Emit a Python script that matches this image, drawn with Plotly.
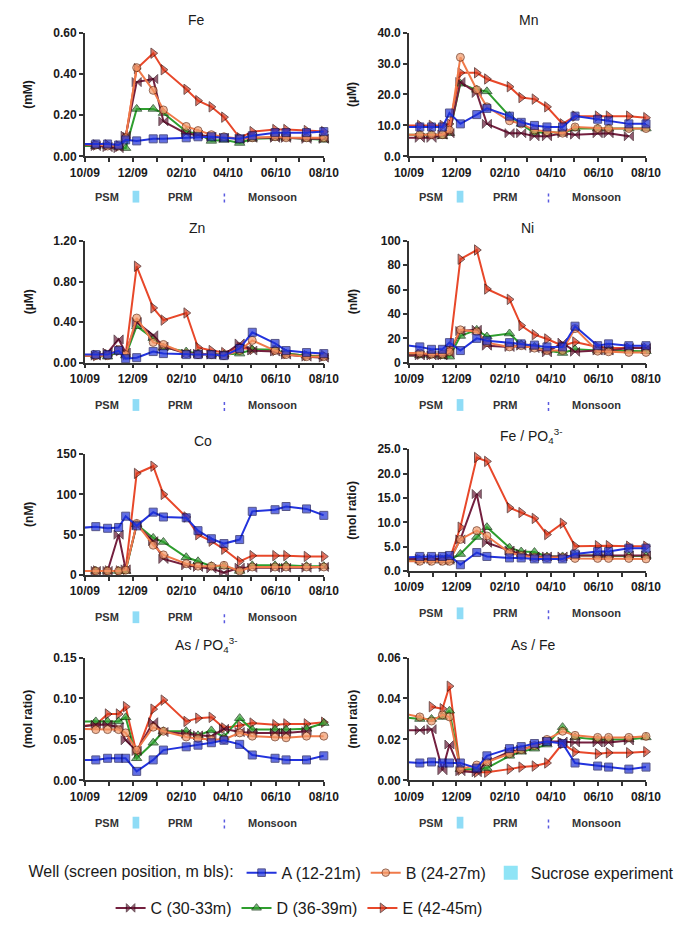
import plotly.graph_objects as go

W, H = 683, 925

# Sampling dates (first entry precedes the axis start so lines enter from the left edge)
dates = ["2009-09-20", "2009-10-15", "2009-10-30", "2009-11-13", "2009-11-22",
         "2009-12-06", "2009-12-27", "2010-01-09", "2010-02-07", "2010-02-22",
         "2010-03-11", "2010-03-27", "2010-04-16", "2010-05-02", "2010-05-31",
         "2010-06-14", "2010-07-10", "2010-08-01"]

# Fe (mM)
fe_A = [0.06, 0.06, 0.06, 0.055, 0.08, 0.075, 0.085, 0.085, 0.09, 0.095, 0.095, 0.09, 0.085, 0.10, 0.115, 0.115, 0.115, 0.12]
fe_B = [0.06, 0.055, 0.05, 0.05, 0.09, 0.43, 0.32, 0.225, 0.145, 0.125, 0.105, 0.095, 0.085, 0.09, 0.095, 0.09, 0.09, 0.09]
fe_C = [0.06, 0.05, 0.045, 0.04, 0.10, 0.36, 0.375, 0.17, 0.11, 0.105, 0.095, 0.09, 0.085, 0.09, 0.09, 0.09, 0.085, 0.085]
fe_D = [0.05, 0.05, 0.05, 0.045, 0.04, 0.23, 0.23, 0.21, 0.12, 0.11, 0.075, 0.08, 0.065, 0.085, 0.09, 0.09, 0.085, 0.08]
fe_E = [0.06, 0.055, 0.055, 0.05, 0.09, 0.425, 0.50, 0.42, 0.325, 0.27, 0.24, 0.19, 0.09, 0.12, 0.13, 0.13, 0.125, 0.12]

# Mn (uM)
mn_A = [9.5, 9.5, 9.5, 9.5, 14, 10.5, 13.5, 15.5, 13, 11, 10, 9.5, 9.5, 13, 12, 11.5, 10.5, 10.5]
mn_B = [7, 7, 7, 7, 8.5, 32, 21.5, 16, 11.5, 10.5, 8.5, 8, 7.5, 9.5, 9, 9, 9, 9]
mn_C = [6, 6, 6, 7, 7.5, 24, 20.5, 10.5, 7.5, 7.5, 6.5, 6.5, 7.5, 7, 7.5, 7.5, 6.5, None]
mn_D = [7, 7, 7, 6.5, 7.5, 23.5, 21.5, 21, 13, 10.5, 7.5, 8, 7.5, 9, 9, 9, 9, 9]
mn_E = [10, 10, 10, 10, 10.5, 27, 27, 25, 22.5, 19, 18.5, 16, 10.5, 13, 13, 13, 13, 12.5]

# Zn (uM)
zn_A = [0.08, 0.08, 0.08, 0.12, 0.04, 0.05, 0.11, 0.09, 0.08, 0.08, 0.08, 0.07, 0.14, 0.30, 0.19, 0.12, 0.10, 0.09]
zn_B = [0.07, 0.07, 0.07, 0.13, 0.08, 0.44, 0.20, 0.18, 0.09, 0.08, 0.08, 0.07, 0.12, 0.22, 0.12, 0.08, 0.06, 0.06]
zn_C = [0.07, 0.07, 0.10, 0.23, 0.10, 0.40, 0.27, 0.16, 0.09, 0.09, 0.08, 0.08, 0.19, 0.12, 0.11, 0.08, 0.06, 0.05]
zn_D = [0.07, 0.07, 0.06, 0.11, 0.07, 0.36, 0.24, 0.15, 0.11, 0.09, 0.08, 0.08, 0.09, 0.13, 0.13, 0.09, 0.07, 0.06]
zn_E = [0.07, 0.07, 0.08, 0.12, 0.08, 0.95, 0.54, 0.42, 0.49, 0.15, 0.12, 0.10, 0.15, 0.13, 0.12, 0.09, 0.07, 0.07]

# Ni (nM)
ni_A = [15, 13, 11, 11, 16.5, 10, 20, 18, 16.5, 15.5, 14.5, 13, 13, 30, 14, 15.5, 14, 14]
ni_B = [8, 8, 7, 7, 9, 27, 25.5, 16.5, 13, 14, 12, 10, 10, 28, 9.5, 9, 8.5, 8.5]
ni_C = [6, 6, 6, 6, 8, 26, 27, 14, 13, 14, 12, 8.5, 16.5, 9, 10, 10, 12, 12]
ni_D = [6, 6, 6, 5.5, 5, 22, 27, 21.5, 24, 15, 13, 10, 8, 11, 10, 10, 10, 9.5]
ni_E = [7, 7, 7, 7, 10, 85, 92.5, 60.5, 52, 30.5, 23, 19.5, 14, 17, 13, 12, 12, 12]

# Co (nM)
co_A = [58, 60, 58, 59, 73, 61, 78, 72, 71, 55, 45, 39, 44, 79, 81, 85, 82, 74]
co_B = [5, 5, 5, 5, 6, 64, 37, 25, 14, 11, 11, 12, 5, 10, 10, 10, 10, 10]
co_C = [5, 5, 5, 50, 7, 62, 42, 20, 12, 10, 8, 3, 9, 9, 9, 9, 9, 10]
co_D = [5, 5, 5, 5, 5, 63, 46, 41, 22, 17, 11, 11, 5, 12, 12, 12, 11, 11]
co_E = [5, 5, 5, 5, 7, 126, 135, 100, 72, 50, 42, 32, 17, 24, 24, 24, 23, 23]

# Fe / PO4 (mol ratio)
fp_A = [2.8, 3.0, 3.0, 3.0, 3.2, 1.3, 3.8, 3.0, 2.7, 2.7, 2.5, 2.5, 2.5, 3.5, 4.0, 4.0, 4.7, 4.7]
fp_B = [2.0, 2.0, 2.0, 2.0, 2.0, 6.5, 8.3, 7.2, 3.8, 3.2, 2.8, 2.8, 2.8, 2.6, 2.6, 2.6, 2.6, 2.5]
fp_C = [2.5, 2.5, 2.5, 2.5, 2.3, 6.5, 15.8, 5.8, 4.2, 3.5, 3.0, 3.0, 3.0, 3.2, 3.2, 3.2, 3.2, 3.2]
fp_D = [2.3, 2.3, 2.3, 2.3, 2.2, 3.5, 7.0, 9.0, 4.8, 4.0, 3.9, 3.0, 3.0, 3.2, 3.2, 3.1, 3.1, 3.1]
fp_E = [2.3, 2.3, 2.3, 2.3, 2.3, 9.0, 23.3, 22.5, 13.0, 12.0, 10.8, 7.5, 9.8, 5.1, 5.2, 5.2, 5.1, 5.1]

# As / PO4 (mol ratio)
ap_A = [0.025, 0.025, 0.027, 0.027, 0.027, 0.011, 0.025, 0.037, 0.041, 0.043, 0.046, 0.049, 0.044, 0.031, 0.027, 0.025, 0.025, 0.030]
ap_B = [0.063, 0.062, 0.062, 0.062, 0.058, 0.037, 0.065, 0.060, 0.053, 0.051, 0.050, 0.050, 0.058, 0.054, 0.053, 0.052, 0.054, 0.054]
ap_C = [0.065, 0.068, 0.068, 0.065, 0.049, 0.036, 0.071, 0.059, 0.057, 0.055, 0.054, 0.063, 0.059, 0.058, 0.058, 0.058, 0.060, None]
ap_D = [0.072, 0.072, 0.072, 0.072, 0.077, 0.027, 0.046, 0.060, 0.060, 0.055, 0.061, 0.053, 0.076, 0.062, 0.062, 0.062, 0.063, 0.070]
ap_E = [0.066, 0.068, 0.081, 0.081, 0.090, 0.033, 0.087, 0.098, 0.072, 0.076, 0.077, 0.064, 0.067, 0.070, 0.068, 0.069, 0.069, 0.071]

# As / Fe (mol ratio)
af_A = [0.009, 0.0085, 0.009, 0.0085, 0.0085, 0.0085, 0.006, 0.012, 0.0155, 0.0165, 0.018, 0.019, 0.018, 0.0085, 0.007, 0.0065, 0.0055, 0.0065]
af_B = [0.033, 0.031, 0.029, 0.032, 0.031, 0.0055, 0.0075, 0.009, 0.013, 0.015, 0.017, 0.020, 0.024, 0.022, 0.021, 0.021, 0.021, 0.0215]
af_C = [0.0245, 0.0245, 0.025, 0.005, 0.0175, 0.0045, 0.004, 0.009, 0.014, 0.015, 0.017, 0.019, 0.019, 0.0185, 0.0185, 0.0185, 0.0195, None]
af_D = [0.031, 0.030, 0.030, 0.031, 0.034, 0.0055, 0.0055, 0.006, 0.012, 0.014, 0.0155, 0.0175, 0.026, 0.021, 0.020, 0.020, 0.020, 0.021]
af_E = [None, None, 0.036, 0.035, 0.046, 0.005, 0.004, 0.004, 0.0055, 0.0065, 0.007, 0.0085, 0.018, 0.014, 0.013, 0.0135, 0.0135, 0.014]

wells = ["A", "B", "C", "D", "E"]
well_names = {"A": "A (12-21m)", "B": "B (24-27m)", "C": "C (30-33m)",
              "D": "D (36-39m)", "E": "E (42-45m)"}
season_labels = ["PSM", "PRM", "Monsoon"]

style = {
    "A": dict(line="#2233dd", fill="#1f32d8", edge="#10105a", symbol="square", size=8),
    "B": dict(line="#f07a4a", fill="#f29a6a", edge="#6a2a10", symbol="circle", size=8),
    "C": dict(line="#74203f", fill="#6b1838", edge="#2a0612", symbol="bowtie", size=9),
    "D": dict(line="#2e9e2e", fill="#33a033", edge="#0c300c", symbol="triangle-up", size=9),
    "E": dict(line="#e8482a", fill="#d83a20", edge="#3a0c08", symbol="triangle-right", size=9),
}

# (title, unit, series, y max, dtick, tick format, plot box in px: left, top, right, bottom, title x)
panels = [
    ("Fe", "(mM)", dict(A=fe_A, B=fe_B, C=fe_C, D=fe_D, E=fe_E), 0.60, 0.2, ".2f", (73, 26, 323, 152), 190),
    ("Mn", "(µM)", dict(A=mn_A, B=mn_B, C=mn_C, D=mn_D, E=mn_E), 40, 10, ".1f", (412, 26, 660, 152), 537),
    ("Zn", "(µM)", dict(A=zn_A, B=zn_B, C=zn_C, D=zn_D, E=zn_E), 1.2, 0.4, ".2f", (73, 238, 323, 362), 190),
    ("Ni", "(nM)", dict(A=ni_A, B=ni_B, C=ni_C, D=ni_D, E=ni_E), 100, 20, "d", (412, 238, 660, 362), 536),
    ("Co", "(nM)", dict(A=co_A, B=co_B, C=co_C, D=co_D, E=co_E), 150, 50, "d", (73, 455, 323, 578), 197),
    ("Fe / PO<sub>4</sub><sup>3-</sup>", "(mol ratio)", dict(A=fp_A, B=fp_B, C=fp_C, D=fp_D, E=fp_E), 25, 5, ".1f", (412, 450, 660, 574), 540),
    ("As / PO<sub>4</sub><sup>3-</sup>", "(mol ratio)", dict(A=ap_A, B=ap_B, C=ap_C, D=ap_D, E=ap_E), 0.15, 0.05, ".2f", (73, 662, 323, 787), 200),
    ("As / Fe", "(mol ratio)", dict(A=af_A, B=af_B, C=af_C, D=af_D, E=af_E), 0.06, 0.02, ".2f", (412, 662, 660, 787), 542),
]


def fx(p):
    return p / W


def fy(p):
    return 1 - p / H


FONT = "Liberation Sans, Arial, sans-serif"
TICKFONT = dict(family=FONT, size=12, color="#1a1a1a", weight="bold")

fig = go.Figure()
layout = {}
annotations = []
shapes = []


def marker_sizes(s):
    # the lead-in point before the axis start carries no marker
    return [0] + [s] * (len(dates) - 1)


for i, (title, unit, series, ymax, dtick, fmt, box, tx) in enumerate(panels):
    n = i + 1
    xa = "xaxis" if n == 1 else f"xaxis{n}"
    ya = "yaxis" if n == 1 else f"yaxis{n}"
    xr = "x" if n == 1 else f"x{n}"
    yr = "y" if n == 1 else f"y{n}"
    l, t, r, b = box

    for w in ["E", "D", "C", "B", "A"]:
        st = style[w]
        fig.add_trace(go.Scatter(
            x=dates, y=series[w], xaxis=xr, yaxis=yr,
            mode="lines+markers", name=well_names[w],
            line=dict(color=st["line"], width=2),
            marker=dict(symbol=st["symbol"], size=marker_sizes(st["size"]),
                        color=st["fill"], line=dict(color=st["edge"], width=1)),
            cliponaxis=False, connectgaps=False,
            showlegend=(n == 1),
            legend=("legend" if w in ("A", "B") else "legend2"),
            legendrank=wells.index(w) + 1 if w in ("A", "B") else wells.index(w) + 10,
        ))

    layout[xa] = dict(
        domain=[fx(l), fx(r)], anchor=yr, type="date",
        range=["2009-10-01", "2010-08-01"],
        tick0="2009-10-01", dtick="M2", tickformat="%m/%y",
        ticks="outside", ticklen=4, tickwidth=1.5, tickcolor="#333",
        minor=dict(dtick="M1", ticks="outside", ticklen=4, tickwidth=1.5, tickcolor="#333"),
        showline=True, linecolor="#333", linewidth=1.5,
        showgrid=False, zeroline=False, tickfont=TICKFONT, fixedrange=True,
    )
    layout[ya] = dict(
        domain=[fy(b), fy(t)], anchor=xr, range=[0, ymax],
        tick0=0, dtick=dtick, tickformat=fmt,
        ticks="outside", ticklen=4, tickwidth=1.5, tickcolor="#333",
        showline=True, linecolor="#333", linewidth=1.5,
        showgrid=False, zeroline=False, tickfont=TICKFONT, fixedrange=True,
    )

    # panel title
    annotations.append(dict(
        text=title, x=fx(tx), y=fy(t - 13), xref="paper", yref="paper",
        xanchor="center", yanchor="middle", showarrow=False,
        font=dict(family=FONT, size=14, color="#1a1a1a")))
    # unit label
    annotations.append(dict(
        text=f"<b>{unit}</b>", x=fx(l - 59), y=fy((t + b) / 2), xref="paper", yref="paper",
        xanchor="center", yanchor="middle", showarrow=False, textangle=-90,
        font=dict(family=FONT, size=12, color="#1a1a1a")))

    # season strip under each panel
    sy = b + 41 if n <= 2 else b + 43
    for label, off in zip(season_labels, (23, 100, 196)):
        annotations.append(dict(
            text=f"<b>{label}</b>", x=fx(l + off), y=fy(sy), xref="paper", yref="paper",
            xanchor="center", yanchor="middle", showarrow=False,
            font=dict(family=FONT, size=11, color="#333")))
    shapes.append(dict(type="rect", xref="paper", yref="paper",
                       x0=fx(l + 50), x1=fx(l + 57), y0=fy(sy + 6), y1=fy(sy - 6),
                       fillcolor="#8fdcf6", line=dict(width=0)))
    shapes.append(dict(type="line", xref="paper", yref="paper",
                       x0=fx(l + 146), x1=fx(l + 146), y0=fy(sy + 6), y1=fy(sy - 6),
                       line=dict(color="#5a5ae0", width=1.5, dash="dot")))

# legend entry for the sucrose experiment period
fig.add_trace(go.Scatter(
    x=[None], y=[None], mode="markers", name="Sucrose experiment",
    marker=dict(symbol="square", size=14, color="#8fe4f6", line=dict(width=0)),
    legend="legend", legendrank=3, showlegend=True))

LEGFONT = dict(family=FONT, size=16, color="#1a1a1a")
fig.update_layout(
    width=W, height=H, margin=dict(l=0, r=0, t=0, b=0),
    paper_bgcolor="white", plot_bgcolor="white",
    annotations=annotations, shapes=shapes,
    legend=dict(orientation="h", x=fx(12), y=fy(881), xanchor="left", yanchor="middle",
                title=dict(text="Well (screen position, m bls):", side="left", font=LEGFONT),
                font=LEGFONT, traceorder="normal", bgcolor="rgba(0,0,0,0)"),
    legend2=dict(orientation="h", x=fx(100), y=fy(917), xanchor="left", yanchor="middle",
                 font=LEGFONT, traceorder="normal", bgcolor="rgba(0,0,0,0)"),
    **layout,
)

fig.write_html("out.html")
